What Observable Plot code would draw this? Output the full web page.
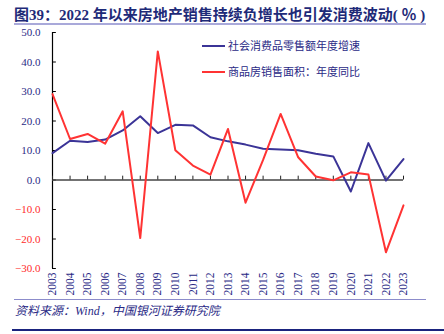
<!DOCTYPE html>
<html><head><meta charset="utf-8">
<script src="https://cdn.jsdelivr.net/npm/d3@7"></script>
<script src="https://cdn.jsdelivr.net/npm/@observablehq/plot@0.6"></script>
<style>
body{margin:0;background:#fff;width:444px;height:334px;overflow:hidden;position:relative;font-family:"Liberation Serif","Noto Sans CJK SC",serif;}
#title{position:absolute;left:14px;top:3px;font-size:15px;font-weight:bold;color:#1E2A78;white-space:nowrap;font-family:"Liberation Serif","Noto Sans CJK SC",serif;}
#tline{position:absolute;left:14px;top:23px;width:412px;height:2px;background:#A9A9DA;}
#chart{position:absolute;left:0;top:24px;}
#legend{position:absolute;left:202px;top:36px;font-size:11px;color:#2A2A86;font-family:"Noto Sans CJK SC",sans-serif;}
.li{position:relative;height:26px;line-height:18px;white-space:nowrap;}
.sw{display:inline-block;width:23px;height:2px;vertical-align:middle;margin-right:3px;position:relative;top:-1px;}
#sline{position:absolute;left:14px;top:299px;width:412px;height:1px;background:#8C8CCB;}
#source{position:absolute;left:15px;top:301px;font-size:12px;font-style:italic;color:#2A2A86;white-space:nowrap;font-family:"Liberation Serif","Noto Sans CJK SC",serif;}
#bline{position:absolute;left:12px;top:329px;width:432px;height:2px;background:#1A237E;}
</style></head>
<body>
<div id="title">图39：2022 年以来房地产销售持续负增长也引发消费波动( ％ )</div>
<div id="tline"></div>
<div id="chart"></div>
<div id="legend">
  <div class="li"><span class="sw" style="background:#3B3497"></span>社会消费品零售额年度增速</div>
  <div class="li"><span class="sw" style="background:#FF3333"></span>商品房销售面积：年度同比</div>
</div>
<div id="sline"></div>
<div id="source">资料来源：Wind，中国银河证券研究院</div>
<div id="bline"></div>
<script>
const years = [2003,2004,2005,2006,2007,2008,2009,2010,2011,2012,2013,2014,2015,2016,2017,2018,2019,2020,2021,2022,2023];
const retail = [9.1,13.3,12.9,13.7,16.8,21.6,15.9,18.7,18.5,14.5,13.1,12.0,10.6,10.3,10.1,8.9,8.0,-3.9,12.5,-0.2,7.1];
const housing = [29.1,13.9,15.6,12.3,23.3,-19.7,43.6,10.1,4.9,1.8,17.3,-7.7,6.8,22.4,7.7,1.2,-0.1,2.6,1.9,-24.5,-8.6];
const yTicks = [50,40,30,20,10,0,-10,-20,-30];

const data = years.map((y,i)=>({year:y, retail:retail[i], housing:housing[i]}));
const navy = "#2A2A86";
const fmt = d3.format(".1f");

const chart = Plot.plot({
  width: 444, height: 276,
  marginLeft: 52, marginRight: 41, marginTop: 8, marginBottom: 32,
  style: {fontFamily: '"Liberation Serif", serif', background: "transparent"},
  x: {domain: [2003, 2023], axis: null},
  y: {domain: [-30, 50], axis: null},
  marks: [
    Plot.ruleX([2003], {y1: -30, y2: 50, stroke: "#000", strokeWidth: 1.2}),
    Plot.ruleY(yTicks, {y: d=>d, x1: 2003, x2: 2003.22, stroke: "#000"}),
    Plot.ruleY([0], {x1: 2003, x2: 2023, stroke: "#444", strokeWidth: 1.5}),
    Plot.ruleX(years, {x: d=>d, y1: 0, y2: 1.3, stroke: "#222"}),
    Plot.text(yTicks.filter(d=>d>=0), {x: 2003, y: d=>d, text: d=>fmt(d), textAnchor: "end", dx: -12, fill: navy, fontSize: 11}),
    Plot.text(yTicks.filter(d=>d<0), {x: 2003, y: d=>d, text: d=>fmt(d), textAnchor: "end", dx: -12, fill: "#FF2A2A", fontSize: 11}),
    Plot.axisX({ticks: years, tickFormat: d=>String(d), tickRotate: -90, tickSize: 0, tickPadding: 4, fill: navy, fontSize: 11.5, label: null}),
    Plot.line(data, {x: "year", y: "retail", stroke: "#3B3497", strokeWidth: 2}),
    Plot.line(data, {x: "year", y: "housing", stroke: "#FF3333", strokeWidth: 2})
  ]
});
document.getElementById("chart").appendChild(chart);
</script>
</body></html>
